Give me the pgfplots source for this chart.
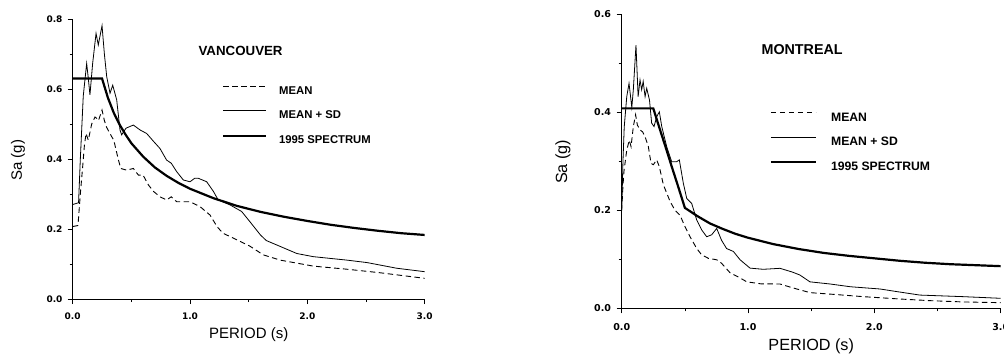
\documentclass[border=0pt]{standalone}
\usepackage{fontspec}
\setmainfont{Liberation Sans}
\newfontfamily\tickfont{DejaVu Sans}
\usepackage{pgfplots}
\pgfplotsset{compat=1.18}
\begin{document}
\begin{tikzpicture}
\useasboundingbox (0,0) rectangle (1004pt,354pt);
\pgfplotsset{
  spec/.style={
    scale only axis,
    axis lines=left,
    axis line style={-, line width=0.8pt},
    tick align=outside,
    major tick length=5pt,
    minor tick length=3pt,
    every tick/.style={black, line width=0.7pt},
    xmin=0, xmax=3,
    ymin=0,
    xtick={0,1,2,3},
    minor xtick={0.5,1.5,2.5},
    /pgf/number format/assume math mode=true,
    xticklabel={\pgfmathprintnumber[fixed,fixed zerofill,precision=1]{\tick}},
    yticklabel={\pgfmathprintnumber[fixed,fixed zerofill,precision=1]{\tick}},
    legend cell align=left,
    legend image code/.code={\draw[##1] (0pt,3.8pt) -- (\leglen,3.8pt);},
    meanst/.style={black, line width=0.9pt, dash pattern=on 5.5pt off 3.5pt},
    sdst/.style={black, line width=0.8pt},
    specst/.style={black, line width=2.2pt},
  }
}
\def\leglen{43pt}
% ---------------- VANCOUVER ----------------
\begin{axis}[spec,
  at={(72.7pt,55pt)}, anchor=south west,
  width=352pt, height=280pt,
  ymax=0.8,
  ytick={0,0.2,0.4,0.6,0.8},
  minor ytick={0.1,0.3,0.5,0.7},
  tick label style={font=\tickfont\bfseries\fontsize{9}{10}\selectfont},
  yticklabel style={inner sep=0pt, xshift=-5pt},
  xticklabel style={inner sep=0pt, yshift=-9pt},
  xlabel={PERIOD (s)},
  ylabel={Sa (g)},
  xlabel style={at={([yshift=-36pt]rel axis cs:0.5,0)}, anchor=center, font=\fontsize{15}{18}\selectfont},
  ylabel style={at={([xshift=-54.7pt]rel axis cs:0,0.496)}, anchor=center, font=\fontsize{15}{18}\selectfont},
  legend style={at={(rel axis cs:0.424,0.760)}, anchor=north west, draw=none, fill=none,
    inner sep=0pt, outer sep=0pt, column sep=12pt, row sep=15.7pt,
    nodes={inner sep=0pt, text height=8.5pt, text depth=0pt},
    font=\bfseries\fontsize{11.3}{13}\selectfont},
]
\addplot[meanst] coordinates {
(0,0.207) (0.045,0.21) (0.065,0.30) (0.085,0.378) (0.10,0.44) (0.114,0.473)
(0.133,0.454) (0.162,0.50) (0.19,0.52) (0.205,0.516) (0.22,0.51) (0.25,0.54)
(0.27,0.51) (0.29,0.49) (0.332,0.464) (0.35,0.454) (0.39,0.397) (0.41,0.373)
(0.46,0.368) (0.517,0.373) (0.56,0.354) (0.60,0.354) (0.645,0.326) (0.69,0.307)
(0.744,0.292) (0.80,0.283) (0.84,0.292) (0.886,0.278) (1.0,0.278) (1.085,0.264)
(1.17,0.24) (1.23,0.207) (1.28,0.188) (1.40,0.169) (1.51,0.151) (1.625,0.126)
(1.77,0.111) (2.05,0.094) (2.34,0.085) (2.62,0.075) (3.0,0.059)};
\addlegendentry{MEAN}
\addplot[sdst] coordinates {
(0,0.27) (0.05,0.275) (0.065,0.40) (0.09,0.58) (0.119,0.673) (0.13,0.64)
(0.147,0.583) (0.17,0.673) (0.199,0.759) (0.218,0.726) (0.25,0.781) (0.27,0.70)
(0.29,0.635) (0.318,0.588) (0.341,0.611) (0.375,0.569) (0.403,0.483) (0.417,0.469)
(0.454,0.488) (0.517,0.497) (0.574,0.483) (0.63,0.473) (0.69,0.45) (0.744,0.43)
(0.80,0.397) (0.84,0.388) (0.886,0.364) (0.943,0.34) (1.0,0.335) (1.04,0.345)
(1.07,0.345) (1.142,0.335) (1.2,0.307) (1.24,0.283) (1.34,0.269) (1.44,0.25)
(1.51,0.221) (1.6,0.183) (1.65,0.167) (1.77,0.15) (1.91,0.13) (2.05,0.121)
(2.34,0.111) (2.51,0.104) (2.76,0.088) (3.0,0.078)};
\addlegendentry{MEAN + SD}
\addplot[specst] coordinates {
(0,0.63) (0.25,0.630) (0.30,0.575) (0.35,0.532) (0.40,0.498) (0.45,0.470)
(0.50,0.445) (0.60,0.407) (0.70,0.376) (0.80,0.352) (0.90,0.332) (1.00,0.315)
(1.20,0.288) (1.40,0.266) (1.60,0.249) (1.80,0.235) (2.00,0.223) (2.20,0.212)
(2.40,0.203) (2.60,0.195) (2.80,0.188) (3.00,0.183)};
\addlegendentry{1995 SPECTRUM}
\node[font=\bfseries\fontsize{13.3}{16}\selectfont] at (rel axis cs:0.477,0.886) {VANCOUVER};
\end{axis}
% ---------------- MONTREAL ----------------
\def\leglen{45pt}
\begin{axis}[spec,
  at={(621.7pt,45.7pt)}, anchor=south west,
  width=379pt, height=294pt,
  ymax=0.6,
  ytick={0,0.2,0.4,0.6},
  minor ytick={0.1,0.3,0.5},
  tick label style={font=\tickfont\bfseries\fontsize{9.5}{11}\selectfont},
  yticklabel style={inner sep=0pt, xshift=-5.5pt},
  xticklabel style={inner sep=0pt, yshift=-9.5pt},
  xlabel={PERIOD (s)},
  ylabel={Sa (g)},
  xlabel style={at={([yshift=-38.4pt]rel axis cs:0.5,0)}, anchor=center, font=\fontsize{16.2}{19}\selectfont},
  ylabel style={at={([xshift=-58.7pt]rel axis cs:0,0.498)}, anchor=center, font=\fontsize{16.2}{19}\selectfont},
  legend style={at={(rel axis cs:0.391,0.667)}, anchor=north west, draw=none, fill=none,
    inner sep=0pt, outer sep=0pt, column sep=14pt, row sep=15.6pt,
    nodes={inner sep=0pt, text height=8.9pt, text depth=0pt},
    font=\bfseries\fontsize{12.2}{14}\selectfont},
]
\addplot[meanst] coordinates {
(0,0.20) (0.01,0.25) (0.018,0.28) (0.04,0.323) (0.06,0.343) (0.074,0.33)
(0.092,0.371) (0.11,0.395) (0.124,0.374) (0.145,0.364) (0.166,0.36) (0.185,0.35)
(0.211,0.33) (0.232,0.296) (0.25,0.293) (0.277,0.303) (0.298,0.289) (0.33,0.252)
(0.383,0.218) (0.422,0.2) (0.462,0.19) (0.5,0.167) (0.541,0.146) (0.594,0.122)
(0.633,0.109) (0.686,0.102) (0.752,0.099) (0.79,0.092) (0.857,0.0727) (0.937,0.062)
(0.99,0.054) (1.1,0.05) (1.253,0.0496) (1.35,0.042) (1.49,0.032) (1.7,0.028)
(1.91,0.0238) (2.2,0.019) (2.44,0.0156) (2.7,0.013) (3.0,0.0115)};
\addlegendentry{MEAN}
\addplot[sdst] coordinates {
(0,0.20) (0.01,0.30) (0.02,0.37) (0.04,0.432) (0.058,0.459) (0.08,0.41)
(0.092,0.446) (0.113,0.537) (0.13,0.432) (0.145,0.466) (0.158,0.446) (0.17,0.463)
(0.185,0.432) (0.198,0.449) (0.22,0.425) (0.237,0.378) (0.256,0.371) (0.277,0.391)
(0.298,0.401) (0.317,0.371) (0.356,0.33) (0.396,0.299) (0.435,0.299) (0.456,0.303)
(0.488,0.255) (0.515,0.224) (0.554,0.214) (0.594,0.18) (0.633,0.16) (0.673,0.146)
(0.712,0.15) (0.752,0.163) (0.79,0.139) (0.83,0.122) (0.884,0.116) (0.937,0.099)
(1.016,0.082) (1.12,0.0796) (1.253,0.0816) (1.35,0.074) (1.41,0.068) (1.49,0.054)
(1.65,0.0496) (1.81,0.044) (2.045,0.0394) (2.18,0.034) (2.36,0.027) (2.70,0.0238)
(3.0,0.0204)};
\addlegendentry{MEAN + SD}
\addplot[specst] coordinates {
(0,0.408) (0.25,0.408) (0.30,0.367) (0.35,0.327) (0.40,0.286) (0.45,0.246)
(0.50,0.205) (0.6,0.188) (0.7,0.173) (0.8,0.162) (0.9,0.152) (1.0,0.144)
(1.2,0.131) (1.4,0.121) (1.6,0.113) (1.8,0.107) (2.0,0.102) (2.2,0.097)
(2.4,0.093) (2.6,0.090) (2.8,0.088) (3.0,0.086)};
\addlegendentry{1995 SPECTRUM}
\node[font=\bfseries\fontsize{14.3}{17}\selectfont] at (rel axis cs:0.476,0.879) {MONTREAL};
\end{axis}
\end{tikzpicture}
\end{document}
